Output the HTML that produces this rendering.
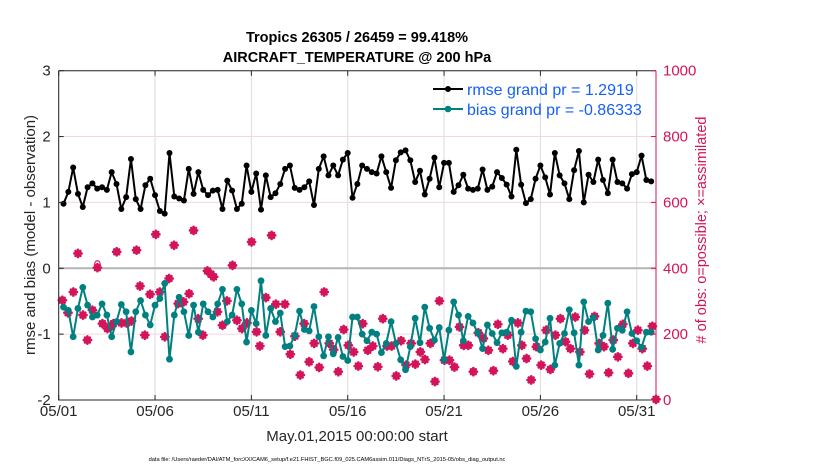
<!DOCTYPE html>
<html><head><meta charset="utf-8"><style>
html,body{margin:0;padding:0;background:#fff;}
svg{display:block;font-family:"Liberation Sans",sans-serif;}
</style></head><body>
<svg id="chart" width="830" height="470" viewBox="0 0 830 470">
<rect width="830" height="470" fill="#fff"/>
<g id="grid"></g>
<g id="marks"></g>
<g id="axes"></g>
<text x="357" y="42" text-anchor="middle" font-size="14.5" font-weight="bold">Tropics 26305 / 26459 = 99.418%</text>
<text x="357" y="62" text-anchor="middle" font-size="14.5" font-weight="bold">AIRCRAFT_TEMPERATURE @ 200 hPa</text>
<text x="357" y="441" text-anchor="middle" font-size="15" fill="#262626">May.01,2015 00:00:00 start</text>
<text transform="translate(35,235) rotate(-90)" text-anchor="middle" font-size="15" fill="#262626">rmse and bias (model - observation)</text>
<text transform="translate(706,230) rotate(-90)" text-anchor="middle" font-size="14.5" fill="#d4145a"># of obs: o=possible; ×=assimilated</text>
<text x="327" y="461" text-anchor="middle" font-size="5.7" fill="#000">data file: /Users/raeder/DAI/ATM_forcXX/CAM6_setup/f.e21.FHIST_BGC.f09_025.CAM6assim.011/Diags_NTrS_2015-05/obs_diag_output.nc</text>
<g>
<g>
<line x1="433" y1="89" x2="463" y2="89" stroke="#000" stroke-width="2"/>
<circle cx="448" cy="89" r="3" fill="#000"/>
<text x="467" y="95" font-size="16" fill="#1560f5">rmse grand pr = 1.2919</text>
</g>
<g>
<line x1="433" y1="109" x2="463" y2="109" stroke="#008080" stroke-width="2"/>
<circle cx="448" cy="109" r="3.3" fill="#008080"/>
<text x="467" y="115" font-size="16" fill="#1560f5">bias grand pr = -0.86333</text>
</g>
</g>
</svg>
<script>
const dateTicks = ["05/01","05/06","05/11","05/16","05/21","05/26","05/31"];
const dateTickDays = [0,5,10,15,20,25,30];
const leftTicks = [3,2,1,0,-1,-2];
const rightTicks = [0,200,400,600,800,1000];
const rmse = [0.98,1.16,1.53,1.13,0.93,1.23,1.29,1.21,1.23,1.19,1.46,1.28,0.90,1.08,1.66,1.05,0.90,1.26,1.36,1.11,0.87,0.83,1.75,1.09,1.06,1.03,1.51,1.13,1.46,1.19,1.11,1.18,1.19,0.90,1.33,1.18,0.90,0.98,1.56,
1.16,1.44,0.89,1.41,1.08,1.14,1.28,1.51,1.56,1.22,1.19,1.23,1.32,0.96,1.51,1.70,1.41,1.56,1.41,1.65,1.75,1.07,1.28,1.56,1.51,1.46,1.44,1.70,1.46,1.22,1.64,1.76,1.79,1.64,1.31,1.48,1.12,1.36,1.68,1.23,1.60,1.60,
1.16,1.26,1.42,1.21,1.19,1.21,1.50,1.19,1.24,1.46,1.37,1.27,1.09,1.80,1.27,0.99,1.05,1.36,1.56,1.38,1.12,1.75,1.41,1.29,1.05,1.49,1.78,1.00,1.42,1.31,1.65,1.34,1.14,1.65,1.31,1.29,1.21,1.43,1.46,1.71,1.34,1.32];
const bias = [-0.59,-0.64,-1.04,-0.61,-0.29,-0.56,-0.74,-0.71,-0.54,-0.71,-1.04,-0.81,-0.55,-0.66,-1.27,-0.66,-0.49,-0.71,-0.86,-0.56,-0.46,-0.23,-1.38,-0.71,-0.44,-0.66,-1.02,-0.56,-0.97,-0.54,-0.66,-0.74,-0.54,-0.32,-0.81,-0.71,-0.32,-0.54,-1.12,
-0.64,-0.84,-0.19,-1.02,-0.61,-0.81,-0.68,-1.19,-1.18,-1.02,-0.65,-0.93,-0.95,-0.58,-1.04,-1.33,-1.04,-1.30,-1.05,-1.34,-1.40,-0.74,-0.74,-1.00,-1.10,-0.97,-1.00,-1.28,-1.14,-0.81,-1.14,-1.39,-1.54,-1.19,-0.76,-1.13,-0.59,-0.91,-1.09,-0.90,-1.39,-0.94,
-0.51,-0.71,-1.10,-0.73,-0.83,-0.98,-1.22,-0.86,-0.99,-1.13,-0.98,-0.97,-0.79,-1.49,-0.97,-0.65,-0.66,-1.07,-1.24,-1.12,-0.76,-1.47,-1.14,-0.99,-0.63,-0.98,-1.47,-0.51,-0.81,-0.75,-1.24,-1.02,-0.53,-1.23,-0.91,-0.94,-0.66,-0.99,-1.10,-1.20,-0.97,-0.97];
const obsDays = [0.19,0.48,0.76,1.00,1.26,1.49,1.75,2.01,2.27,2.53,2.70,2.84,3.01,3.26,3.52,3.78,4.04,4.22,4.47,4.74,5.04,5.25,5.51,5.73,5.99,6.20,6.48,6.77,7.00,7.24,7.48,7.72,7.90,8.04,8.24,8.50,8.73,9.02,9.25,9.51,9.77,10.01,10.27,10.44,
10.75,11.05,11.27,11.50,11.74,12.02,12.26,12.54,12.74,13.00,13.26,13.52,13.78,14.04,14.27,14.51,14.79,15.03,15.31,15.55,15.78,16.04,16.30,16.56,16.82,17.04,17.28,17.52,17.77,18.03,18.29,18.51,18.77,19.01,19.29,19.53,19.76,20.02,20.28,
20.54,20.80,21.02,21.26,21.52,21.78,22.04,22.30,22.56,22.79,23.05,23.31,23.57,23.83,24.04,24.28,24.52,24.79,25.04,25.30,25.52,25.78,26.04,26.30,26.56,26.81,27.05,27.29,27.55,27.81,28.05,28.30,28.54,28.78,29.02,29.28,29.57,29.80,30.06,30.29,30.55,30.81,31.0];
const obsAssim = [303,265,328,445,258,182,273,402,232,217,222,232,450,234,234,240,455,346,197,321,503,328,192,369,470,293,298,323,515,247,197,392,382,374,268,227,301,409,242,217,234,480,207,164,
311,500,291,207,291,139,194,76,232,116,172,99,328,172,153,86,214,166,146,103,232,151,164,101,247,164,164,73,180,106,172,109,146,123,172,56,301,121,121,
100,222,166,166,86,204,187,151,89,230,156,197,117,234,166,126,61,162,106,212,93,197,247,177,156,252,146,212,79,254,172,162,83,182,131,230,81,172,212,156,103,224,2];
const obsPossible = obsAssim.map((v,i)=> i===7 ? 415 : v);

const NS="http://www.w3.org/2000/svg";
const L=58.7,R=656,T=70.7,B=400;
const xs=d=>L+(R-L)*d/31;
const yl=v=>T+(B-T)*(3-v)/5;
const yr=c=>B-(B-T)*c/1000;
function mk(tag,attrs,parent){const e=document.createElementNS(NS,tag);for(const k in attrs)e.setAttribute(k,attrs[k]);parent.appendChild(e);return e;}
const grid=document.getElementById('grid'),marks=document.getElementById('marks'),axes=document.getElementById('axes');

dateTickDays.forEach((d,i)=>{
  const g=mk('line',{x1:xs(d),x2:xs(d),y1:T,y2:B,stroke:'#dcdcdc','stroke-width':1},grid);
  
  
});
rightTicks.forEach(c=>{
  const g=mk('line',{x1:L,x2:R,y1:yr(c),y2:yr(c),stroke:'#f2d6e0','stroke-width':1},grid);
  
  
});
const z=mk('line',{x1:L,x2:R,y1:yl(0),y2:yl(0),stroke:'#b4b4b4','stroke-width':2},grid);



obsDays.forEach((d,i)=>{
  const c=mk('circle',{cx:xs(d),cy:yr(obsPossible[i]),r:2.6,fill:'none',stroke:'#d4145a','stroke-width':1.2},marks);
  
  
});
obsDays.forEach((d,i)=>{
  const x=xs(d),y=yr(obsAssim[i]),s=2.4;
  const p=mk('path',{d:`M${x-s},${y-s}L${x+s},${y+s}M${x-s},${y+s}L${x+s},${y-s}M${x},${y-3.6}L${x},${y+3.6}M${x-3.6},${y}L${x+3.6},${y}`,stroke:'#d4145a','stroke-width':2.6,'stroke-linecap':'round'},marks);
  
  
});
function series(vals,color,r,name){
  const pts=vals.map((v,i)=>[xs(0.25*(i+1)),yl(v)]);
  const pl=mk('polyline',{points:pts.map(p=>p.join(',')).join(' '),fill:'none',stroke:color,'stroke-width':2,'stroke-linejoin':'round'},marks);
  
  
  pts.forEach(p=>{
    const c=mk('circle',{cx:p[0],cy:p[1],r:r,fill:color},marks);
    
    
  });
}
series(bias,'#008080',3.4,'bias');
series(rmse,'#000',3,'rmse');

const fr=mk('path',{d:`M${L},${T}L${R},${T}M${L},${T}L${L},${B}L${R},${B}`,stroke:'#262626','stroke-width':1,fill:'none'},axes);


const ra=mk('line',{x1:R,x2:R,y1:T,y2:B,stroke:'#d4145a','stroke-width':1},axes);


dateTickDays.forEach((d,i)=>{
  const t=mk('path',{d:`M${xs(d)},${B}L${xs(d)},${B-5}M${xs(d)},${T}L${xs(d)},${T+5}`,stroke:'#262626'},axes);
  
  
  const tx=mk('text',{x:xs(d),y:B+16,'text-anchor':'middle','font-size':15,fill:'#262626'},axes);
  tx.textContent=dateTicks[i];
  
  
});
leftTicks.forEach(v=>{
  const t=mk('line',{x1:L,x2:L+5,y1:yl(v),y2:yl(v),stroke:'#262626'},axes);
  
  
  const tx=mk('text',{x:L-8,y:yl(v)+5,'text-anchor':'end','font-size':15,fill:'#262626'},axes);
  tx.textContent=String(v);
  
  
});
rightTicks.forEach(c=>{
  const t=mk('line',{x1:R-5,x2:R,y1:yr(c),y2:yr(c),stroke:'#d4145a'},axes);
  
  
  const tx=mk('text',{x:R+7,y:yr(c)+5,'font-size':15,fill:'#d4145a'},axes);
  tx.textContent=String(c);
  
  
});
</script>
</body></html>
